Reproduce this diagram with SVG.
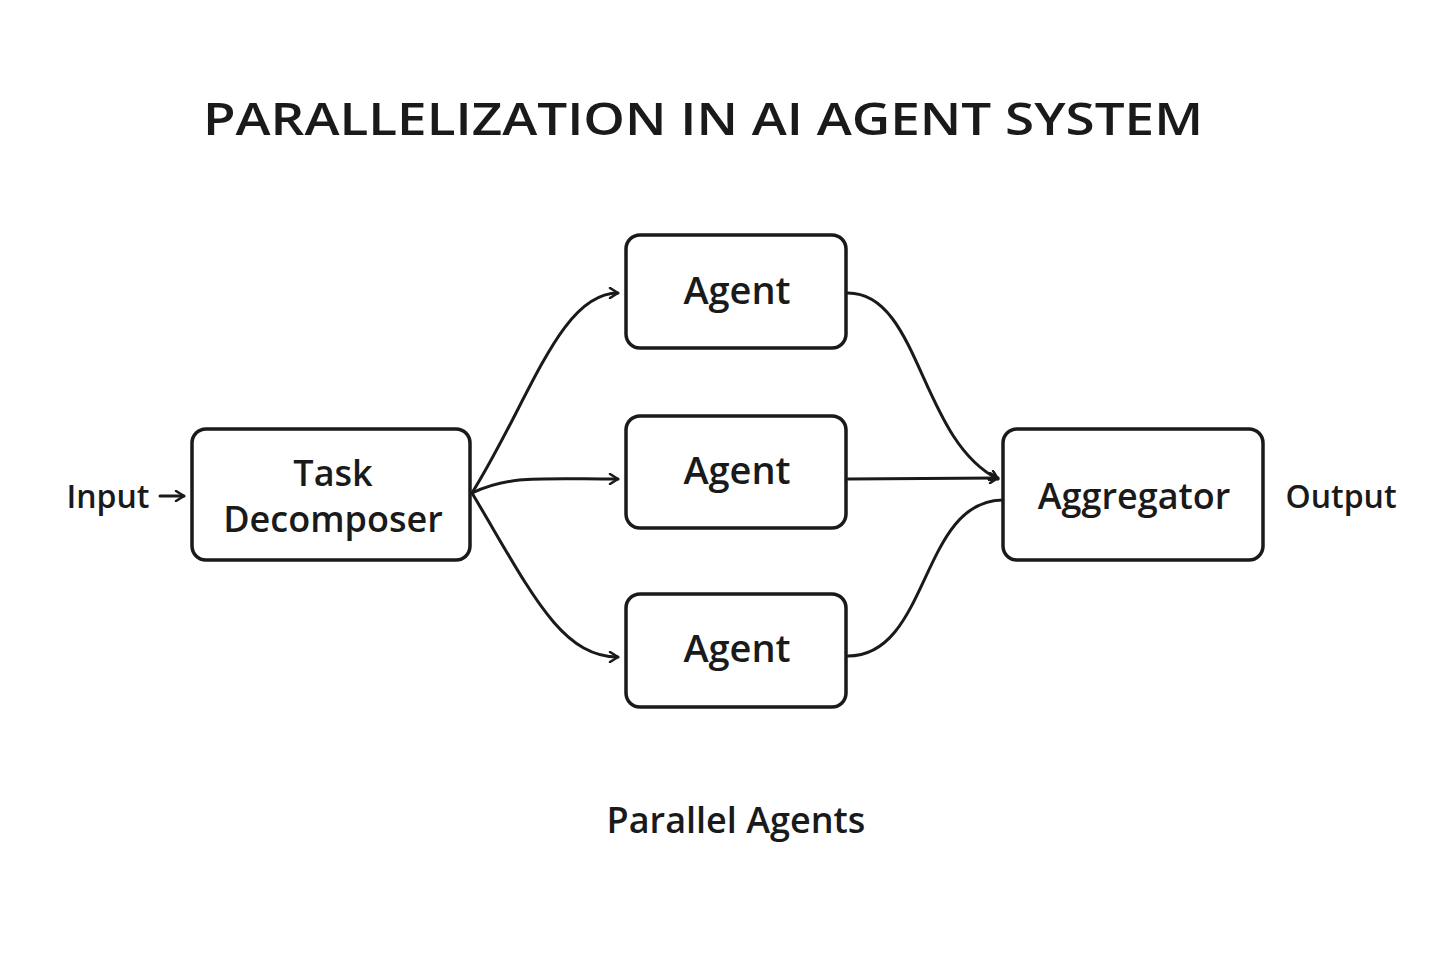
<svg xmlns="http://www.w3.org/2000/svg" width="1440" height="960" viewBox="0 0 1440 960">
<style>
.box{fill:#fff;stroke:#1a1a1a;stroke-width:3.5}
.t{font-family:"Open Sans","Liberation Sans",sans-serif;font-weight:600;fill:#1a1a1a;text-anchor:middle}
.c{fill:none;stroke:#1a1a1a;stroke-width:3;stroke-linecap:round}
</style>
<defs>
<marker id="a" viewBox="0 0 12 12" refX="10" refY="6" markerWidth="12" markerHeight="12" markerUnits="userSpaceOnUse" orient="auto">
<path d="M2,1 L10,6 L2,11" fill="none" stroke="#1a1a1a" stroke-width="2.5" stroke-linecap="round" stroke-linejoin="round"/>
</marker>
</defs>
<rect width="1440" height="960" fill="#fff"/>
<text class="t" x="703" y="135" font-size="46" font-weight="700" textLength="1000" lengthAdjust="spacingAndGlyphs">PARALLELIZATION IN AI AGENT SYSTEM</text>
<g id="connectors">
<path class="c" d="M160,496 L184,496" marker-end="url(#a)"/>
<path class="c" d="M472,493 C530,400 560,293 618,293" marker-end="url(#a)"/>
<path class="c" d="M472,493 C510,475 540,479 618,479" marker-end="url(#a)"/>
<path class="c" d="M472,493 C530,590 560,657 618,657" marker-end="url(#a)"/>
<path class="c" d="M848,293 C920,293 920,440 998,479" marker-end="url(#a)"/>
<path class="c" d="M848,479 L998,478" marker-end="url(#a)"/>
<path class="c" d="M848,656 C930,656 920,500 1003,500"/>
</g>
<g id="input"><text class="t" x="108" y="508" font-size="32">Input</text></g>
<g id="decomposer"><rect class="box" x="192" y="429" width="278" height="131" rx="14"/>
<text class="t" x="333" y="486" font-size="36">Task</text><text class="t" x="333" y="532" font-size="36">Decomposer</text></g>
<g id="agent1"><rect class="box" x="626" y="235" width="220" height="113" rx="14"/><text class="t" x="737" y="304" font-size="38">Agent</text></g>
<g id="agent2"><rect class="box" x="626" y="416" width="220" height="112" rx="14"/><text class="t" x="737" y="484" font-size="38">Agent</text></g>
<g id="agent3"><rect class="box" x="626" y="594" width="220" height="113" rx="14"/><text class="t" x="737" y="662" font-size="38">Agent</text></g>
<g id="aggregator"><rect class="box" x="1003" y="429" width="260" height="131" rx="14"/><text class="t" x="1134" y="509" font-size="36">Aggregator</text></g>
<g id="output"><text class="t" x="1341" y="508" font-size="32">Output</text></g>
<g id="label"><text class="t" x="736" y="833" font-size="36">Parallel Agents</text></g>
</svg>
